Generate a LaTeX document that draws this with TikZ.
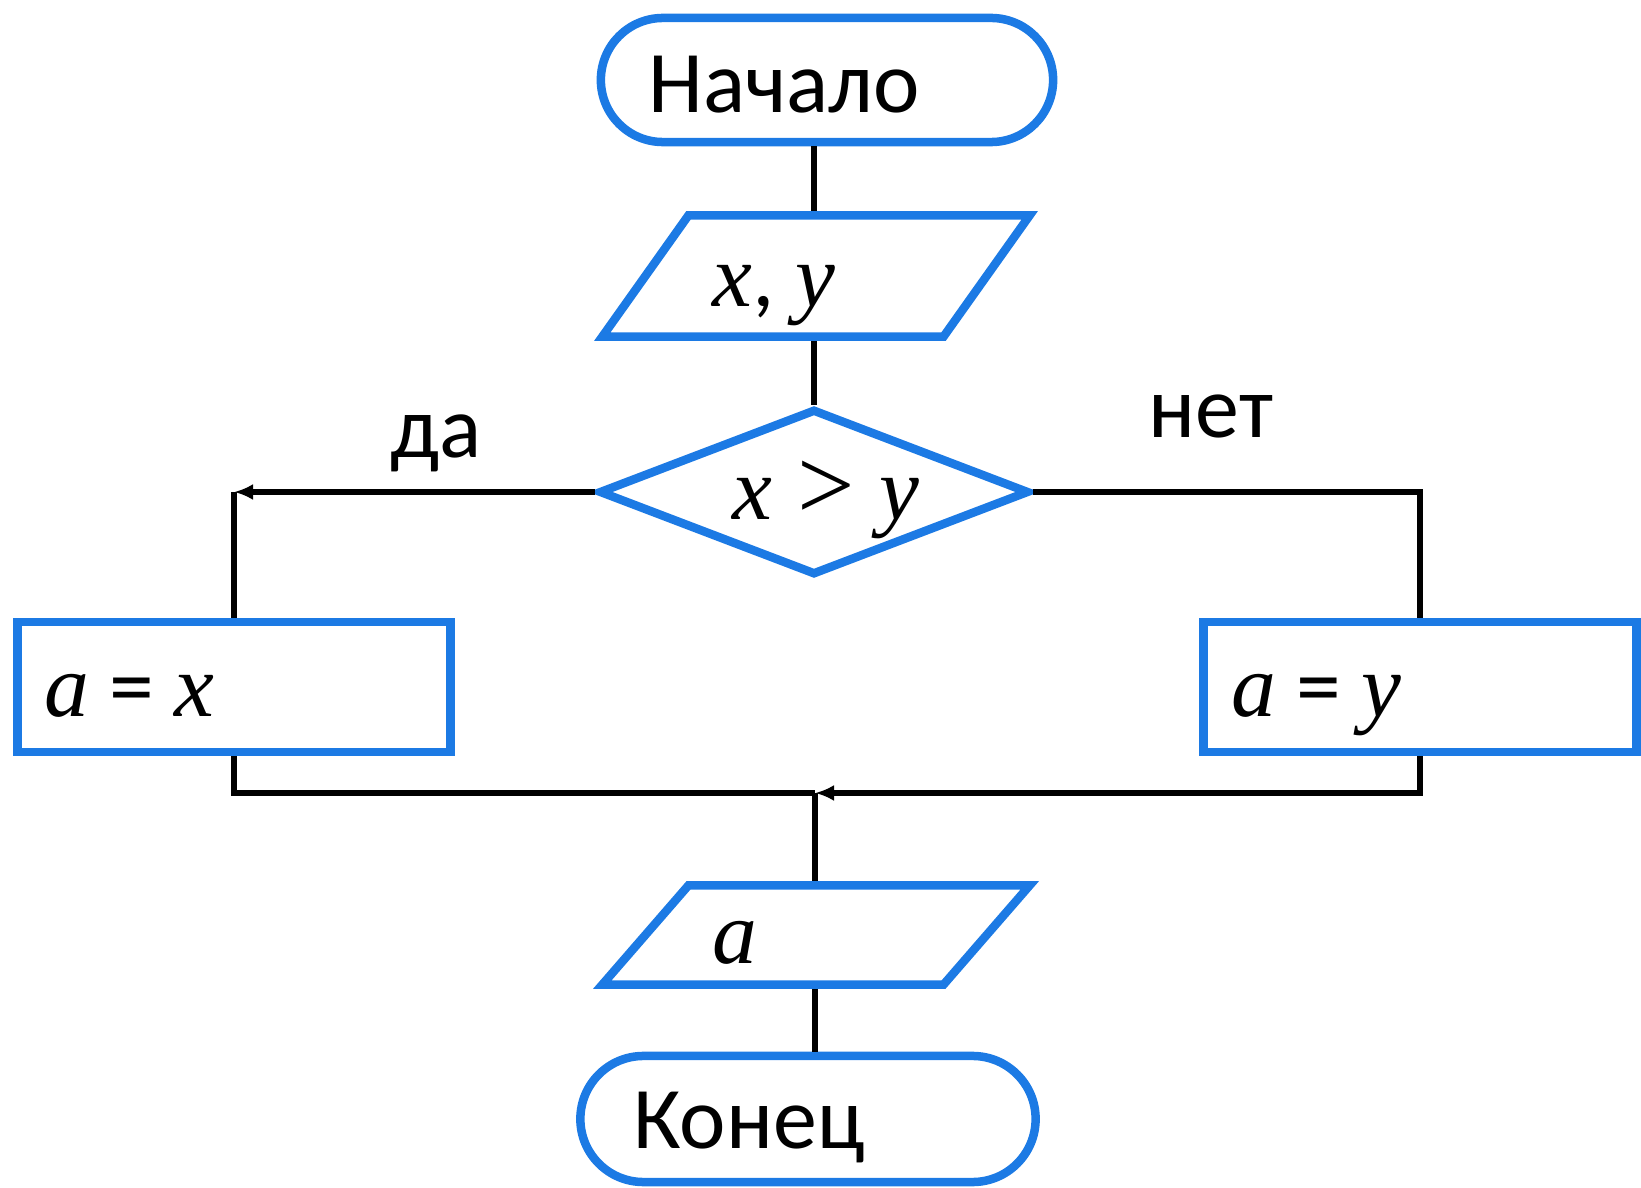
\documentclass[tikz,border=0pt]{standalone}
\usepackage{fontspec}
\setmainfont{Carlito}
\newfontfamily\tms{Liberation Serif}
\usetikzlibrary{shapes.geometric,arrows.meta,calc}
\definecolor{flowblue}{RGB}{28,122,228}
\newcommand\bigtxt{\fontsize{25pt}{30pt}\selectfont}
\newcommand\lbltxt{\fontsize{25pt}{30pt}\selectfont}
\newcommand\vartxt{\fontsize{25.5pt}{30pt}\selectfont}
\newcommand\iv[1]{{\tms\itshape #1}}
\tikzset{
  blk/.style={draw=flowblue,line width=0.085cm,inner sep=0pt,outer sep=0.0425cm},
  term/.style={blk,rectangle,minimum width=4.52cm,minimum height=1.24cm,rounded corners=0.62cm},
  iobox/.style={rectangle,inner sep=0pt,outer sep=0pt,minimum width=4.27cm},
  cond/.style={blk,diamond,minimum width=4.30cm,minimum height=1.66cm},
  proc/.style={blk,rectangle,minimum width=4.33cm,minimum height=1.30cm},
  line/.style={line width=0.055cm,black},
  arr/.style={line,-{Latex[length=0.19cm,width=0.16cm]}}
}
\begin{document}
\begin{tikzpicture}
  [x=0.01cm,y=-0.01cm]
\useasboundingbox (0,0) rectangle (1641,1188);
% shapes
\node (start)[term] at (827,80) {};
\node (inp)[iobox,minimum height=1.21cm] at (816,276) {};
\node (dec)[cond] at (814,492) {};
\node (yes)[proc] at (234,687) {};
\node (no)[proc] at (1420,687) {};
\coordinate (join) at (815,793);
\node (outp)[iobox,minimum height=0.99cm] at (816,935) {};
\node (stop)[term,minimum width=4.55cm,minimum height=1.26cm,rounded corners=0.63cm] at (808,1119) {};

% texts
\node (tstart)[anchor=base,inner sep=0pt,font=\bigtxt] at (784,113) {Начало};
\node (tinp)[anchor=base,inner sep=0pt,font=\vartxt] at (774,307) {\iv{x}, \iv{y}};
\node (tdec)[anchor=base,inner sep=0pt,font=\vartxt] at (826,520) {\iv{x}\hspace{0.25cm}{\tms\fontsize{29pt}{30pt}\selectfont >}\hspace{0.25cm}\iv{y}};
\node (tyes)[anchor=base west,inner sep=0pt,font=\vartxt] at (44,717) {\iv{a} = \iv{x}};
\node (tno)[anchor=base west,inner sep=0pt,font=\vartxt] at (1231,717) {\iv{a} = \iv{y}};
\node (toutp)[anchor=base,inner sep=0pt,font=\vartxt] at (735,963) {\iv{a}};
\node (tstop)[anchor=base,inner sep=0pt,font=\bigtxt] at (749,1148) {Конец};
\node (lyes)[anchor=base,inner sep=0pt,font=\lbltxt] at (436,458) {да};
\node (lno)[anchor=base,inner sep=0pt,font=\lbltxt] at (1211,438) {нет};

% connectors
\draw[line] (dec.north |- start.south) -- (dec.north |- inp.north);
\draw[line] (dec.north |- inp.south) -- (dec.north);
\draw[arr] (dec.west) -- (dec.west -| yes.north);
\draw[line] (dec.west -| yes.north) -- (yes.north);
\draw[line] (dec.east) -| (no.north);
\draw[line] (yes.south) |- (join);
\draw[arr] (no.south) |- (join);
\draw[line] (join) -- (join |- outp.north);
\draw[line] (join |- outp.south) -- (join |- stop.north);

% parallelograms over the line ends
\foreach \io in {inp,outp}
  \draw[blk] ($(\io.north west)+(86,0)$) -- (\io.north east)
    -- ($(\io.south east)-(86,0)$) -- (\io.south west) -- cycle;
\end{tikzpicture}
\end{document}
